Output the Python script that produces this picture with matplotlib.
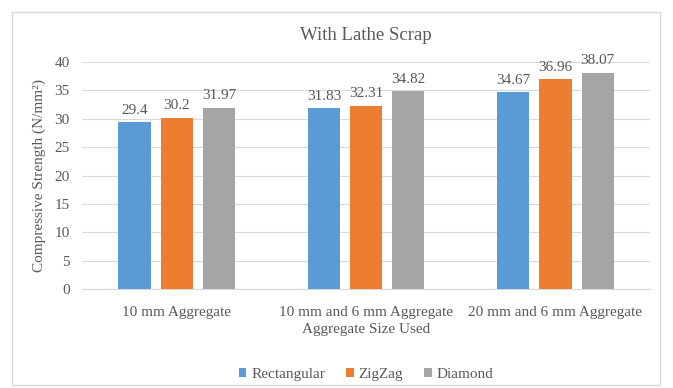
import numpy as np
import matplotlib.pyplot as plt
from matplotlib.patches import Rectangle

# Compressive strength of specimens with lathe scrap fibres
categories = ['10 mm Aggregate', '10 mm and 6 mm Aggregate', '20 mm and 6 mm Aggregate']
series = ['Rectangular', 'ZigZag', 'Diamond']
rectangular = [29.4, 31.83, 34.67]
zigzag = [30.2, 32.31, 36.96]
diamond = [31.97, 34.82, 38.07]
colors = ['#5B9BD5', '#ED7D31', '#A5A5A5']

plt.rcParams['font.family'] = ['Liberation Serif', 'DejaVu Serif']
text_color = '#595959'

fig = plt.figure(figsize=(6.73, 3.88), dpi=100)
ax = fig.add_axes([0.122, 0.255, 0.844, 0.585])

# outer chart border
fig.patches.append(Rectangle((12 / 673, 3 / 388), 648 / 673, 373 / 388,
                             transform=fig.transFigure, fill=False,
                             edgecolor='#D9D9D9', linewidth=1))

x = np.arange(len(categories))
width = 0.17
step = 0.223
for i, (name, vals) in enumerate(zip(series, [rectangular, zigzag, diamond])):
    bars = ax.bar(x + (i - 1) * step, vals, width, color=colors[i], label=name, zorder=3)
    for b, v in zip(bars, vals):
        ax.annotate(f'{v:g}', (b.get_x() + b.get_width() / 2, v),
                    xytext=(0, 4), textcoords='offset points',
                    ha='center', va='bottom', fontsize=11, color=text_color)

ax.set_ylim(0, 40)
ax.set_xlim(-0.5, 2.5)
ax.set_yticks(range(0, 41, 5))
ax.yaxis.grid(True, color='#D9D9D9', linewidth=0.8, zorder=0)
ax.set_xticks(x)
ax.set_xticklabels(categories)
ax.tick_params(axis='both', length=0, labelsize=11, colors=text_color)
ax.tick_params(axis='y', pad=9)
ax.tick_params(axis='x', pad=12)
for side in ['top', 'right', 'left']:
    ax.spines[side].set_visible(False)
ax.spines['bottom'].set_color('#D9D9D9')

ax.set_title('With Lathe Scrap', fontsize=13.5, color=text_color, pad=16)
ax.set_xlabel('Aggregate Size Used', fontsize=11, color=text_color, labelpad=3)
ax.set_ylabel('Compressive Strength (N/mm²)', fontsize=11, color=text_color, labelpad=6)

ax.legend(loc='center', bbox_to_anchor=(0.5, -0.375), ncol=3, frameon=False,
          prop={'family': 'Liberation Serif', 'size': 11}, labelcolor=text_color,
          handlelength=0.5, handleheight=0.5, columnspacing=1.4, handletextpad=0.3)

fig.savefig('out.png', dpi=100)
